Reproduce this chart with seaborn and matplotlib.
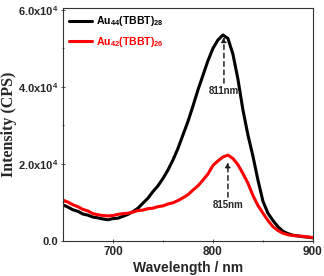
import matplotlib
matplotlib.use("Agg")
import matplotlib.pyplot as plt
import numpy as np
import pandas as pd
import seaborn as sns

# emission spectra (x1e3 CPS), every 5 nm
wavelength = [650, 655, 660, 665, 670, 675, 680, 685, 690, 695,
              700, 705, 710, 715, 720, 725, 730, 735, 740, 745,
              750, 755, 760, 765, 770, 775, 780, 785, 790, 795,
              800, 805, 810, 815, 820, 825, 830, 835, 840, 845,
              850, 855, 860, 865, 870, 875, 880, 885, 890, 895, 900]
au44 = [9.4, 8.8, 8.1, 7.7, 7.0, 6.7, 6.2, 6.0, 5.7, 5.5,
        5.8, 5.9, 6.4, 6.9, 7.6, 8.5, 9.8, 11.1, 12.8, 14.3,
        16.2, 18.4, 21.0, 24.0, 27.5, 31.0, 35.0, 39.2, 43.0, 46.8,
        50.0, 52.2, 53.5, 52.6, 48.5, 42.0, 34.0, 27.5, 22.0, 15.8,
        10.3, 7.2, 5.3, 3.7, 2.5, 1.9, 1.5, 1.3, 1.1, 1.0, 0.8]
au42 = [10.6, 10.1, 9.4, 8.9, 8.2, 7.8, 7.1, 6.8, 6.6, 6.5,
        6.6, 6.9, 7.1, 7.2, 7.5, 7.9, 8.0, 8.4, 8.5, 8.9,
        9.1, 9.6, 9.9, 10.5, 11.2, 12.0, 13.2, 14.3, 15.8, 17.4,
        19.6, 20.8, 21.8, 22.3, 21.4, 19.8, 17.5, 15.0, 11.8, 9.2,
        7.2, 5.3, 3.7, 2.7, 2.0, 1.6, 1.4, 1.3, 1.2, 1.0, 0.9]
labels = [r"Au$_{\mathbf{44}}$(TBBT)$_{\mathbf{28}}$",
          r"Au$_{\mathbf{42}}$(TBBT)$_{\mathbf{26}}$"]
colors = ["black", "red"]
peaks = [(811, 53.0, 41.0, "811nm"), (815, 20.5, 11.4, "815nm")]
yticks = [0, 20000, 40000, 60000]
yticklabels = ["0.0", r"2.0x10$^{\mathbf{4}}$", r"4.0x10$^{\mathbf{4}}$", r"6.0x10$^{\mathbf{4}}$"]

sns.set_style("ticks")
plt.rcParams["font.family"] = ["Liberation Sans", "DejaVu Sans"]
plt.rcParams["font.weight"] = "bold"
plt.rcParams["mathtext.fontset"] = "custom"
plt.rcParams["mathtext.rm"] = "Liberation Sans:bold"
plt.rcParams["mathtext.bf"] = "Liberation Sans:bold"
plt.rcParams["mathtext.it"] = "Liberation Sans:bold"

df = pd.DataFrame({
    "wl": wavelength * 2,
    "I": np.array(au44 + au42) * 1000,
    "sample": [labels[0]] * len(au44) + [labels[1]] * len(au42),
})

fig = plt.figure(figsize=(3.24, 2.76), dpi=100)
ax = fig.add_axes([0.194, 0.127, 0.772, 0.844])
sns.lineplot(data=df, x="wl", y="I", hue="sample", palette=colors, linewidth=2.2, ax=ax)

for (x, ytip, ytail, txt), c in zip(peaks, colors):
    ax.annotate("", xy=(x, ytip * 1000), xytext=(x, ytail * 1000),
                arrowprops=dict(arrowstyle="-|>", linestyle=(0, (3, 2.5)), color="#222222",
                                lw=1.1, mutation_scale=7, shrinkA=0, shrinkB=0))
    ax.text(x, ytail * 1000 - 800, txt, ha="center", va="top", fontsize=7, fontweight="bold")

ax.set_xlim(650, 900)
ax.set_ylim(0, 60500)
ax.set_xticks([700, 800, 900])
ax.set_xticks([750, 850], minor=True)
ax.set_yticks(yticks)
ax.set_yticklabels(yticklabels)
ax.set_yticks([10000, 30000, 50000], minor=True)
ax.tick_params(which="both", direction="inout", width=0.6, color="#333333", pad=2)
ax.tick_params(axis="x", labelsize=8.5)
ax.tick_params(axis="y", labelsize=8)
ax.tick_params(which="major", length=3)
ax.tick_params(which="minor", length=2)
for s in ax.spines.values():
    s.set_linewidth(0.8)
    s.set_color("#333333")
    s.set_visible(True)

ax.set_xlabel("Wavelength / nm", fontsize=10, fontweight="bold", labelpad=2)
ax.set_ylabel("Intensity (CPS)", fontsize=11.5, fontweight="bold", family="Liberation Serif")
ax.yaxis.set_label_coords(-0.183, 0.5)

leg = ax.legend(loc="upper left", frameon=False, fontsize=7.6, handlelength=2.2,
                handletextpad=0.3, borderaxespad=0.2, labelspacing=0.6)
for t, c in zip(leg.get_texts(), colors):
    t.set_color(c)
for l in leg.get_lines():
    l.set_linewidth(2.2)

fig.savefig("out.png", dpi=100)
